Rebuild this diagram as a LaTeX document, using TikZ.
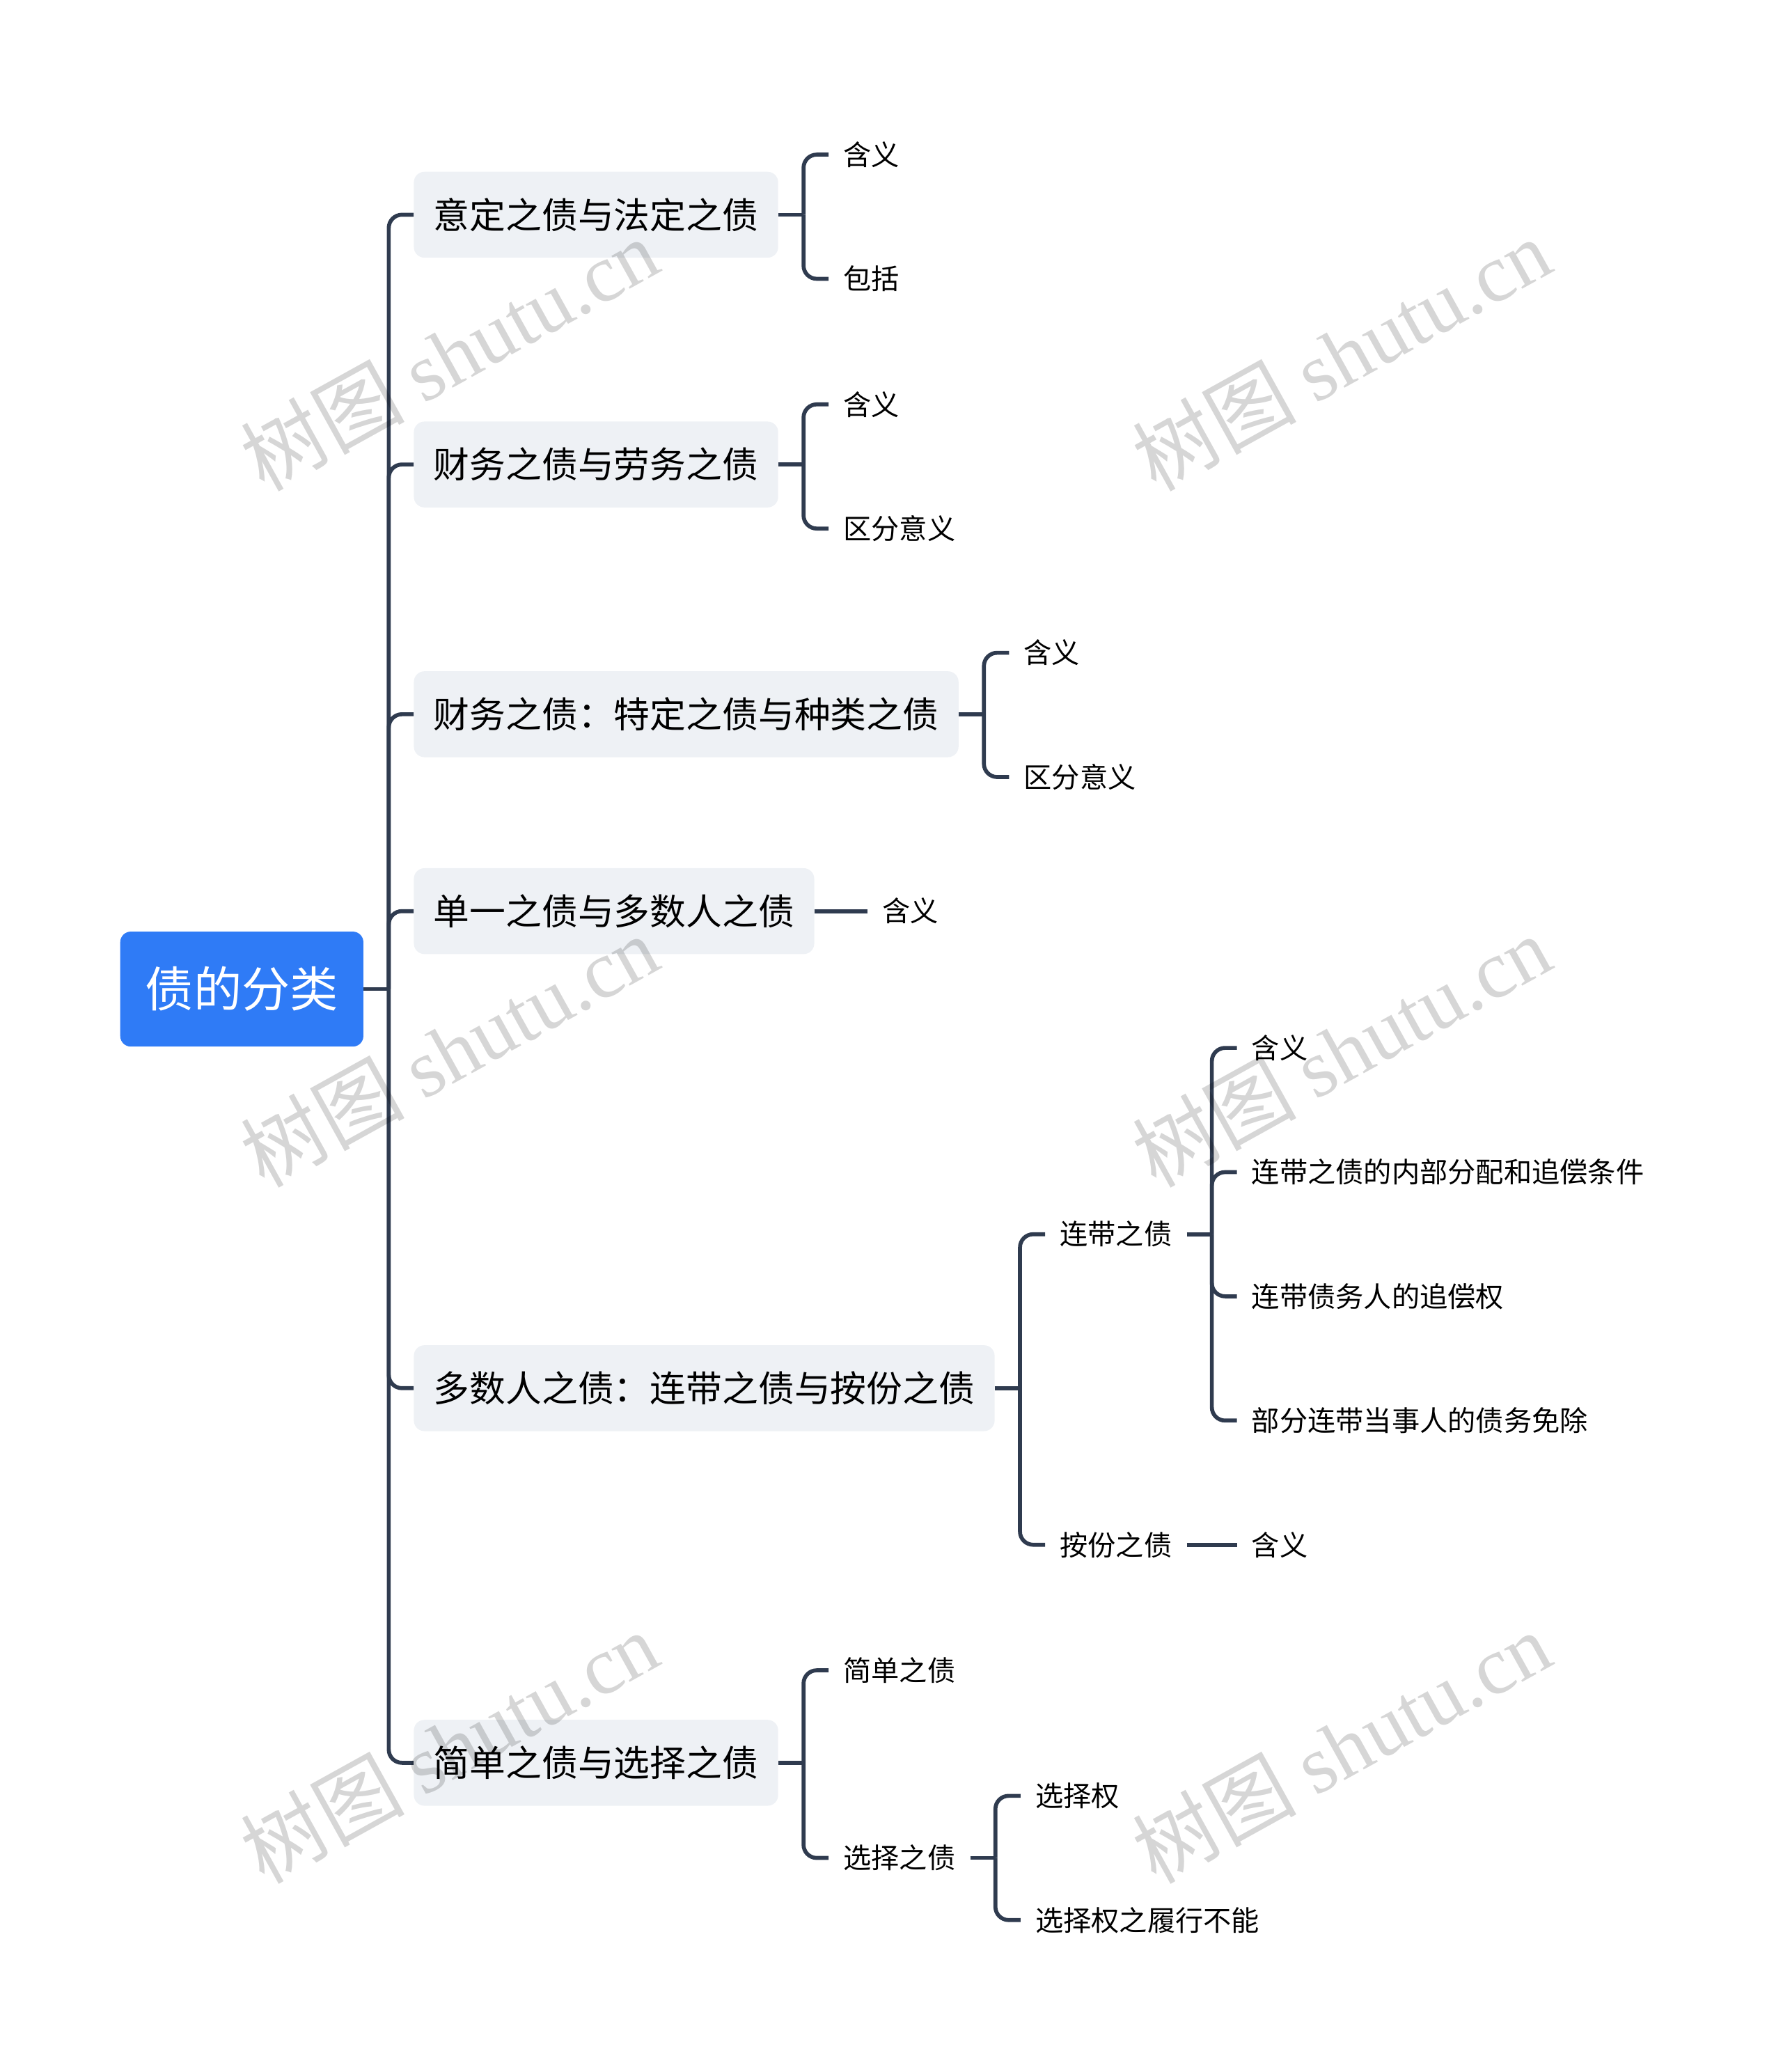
\documentclass[tikz,border=0pt]{standalone}
\usepackage{fontspec}
\newfontfamily\cjk{Noto Sans CJK SC}
\newfontfamily\wmlat{Liberation Serif}
\usetikzlibrary{calc}
\definecolor{rootblue}{RGB}{47,123,246}
\definecolor{boxgray}{RGB}{238,241,245}
\definecolor{linec}{RGB}{47,59,79}
\begin{document}
\begin{tikzpicture}[x=1pt,y=-1pt,
  conn/.style={draw=linec,line width=3pt,rounded corners=10pt},
  rootnode/.style={fill=rootblue,rounded corners=8pt,text=white,
    font=\cjk\fontsize{36.5}{40}\selectfont,minimum width=184pt,minimum height=87pt,
    inner sep=0pt,text height=32.1pt,text depth=4.4pt},
  lvone/.style={fill=boxgray,rounded corners=8pt,font=\cjk\fontsize{27.3}{30}\selectfont,
    inner xsep=15pt,inner ysep=0pt,minimum height=65pt,anchor=west,
    text height=24pt,text depth=3.3pt},
  lvtwo/.style={font=\cjk\fontsize{21.2}{24}\selectfont,inner xsep=11pt,inner ysep=2pt,
    anchor=west,text height=18.7pt,text depth=2.6pt},
  wm/.style={font=\cjk\fontsize{62}{64}\selectfont,text=black,text opacity=0.16,rotate=29}
]
\useasboundingbox (0,0) rectangle (1349,1568);

% root and first level
\node[rootnode] (root) at (183,748.5) {债的分类};
\node[lvone] (a) at (313,162.5) {意定之债与法定之债};
\node[lvone] (b) at (313,351.5) {财务之债与劳务之债};
\node[lvone] (c) at (313,540.5) {财务之债：特定之债与种类之债};
\node[lvone] (d) at (313,689.5) {单一之债与多数人之债};
\node[lvone] (e) at (313,1050.5) {多数人之债：连带之债与按份之债};
\node[lvone] (f) at (313,1334) {简单之债与选择之债};

\coordinate (trunk) at ($(root.east)+(19,0)$);
\draw[conn] (root.east) -- (trunk);
\foreach \n in {a,b,c,d,e,f} { \draw[conn] (trunk) |- (\n.west); }

% branch a
\coordinate (ab) at ($(a.east)+(19,0)$);
\path (a.east) ++(38,0) coordinate (ax);
\node[lvtwo] (a1) at (ax |- 0,117) {含义};
\node[lvtwo] (a2) at (ax |- 0,211) {包括};
\draw[conn] (a.east) -- (ab);
\draw[conn] (ab) |- (a1.west);
\draw[conn] (ab) |- (a2.west);

% branch b
\coordinate (bb) at ($(b.east)+(19,0)$);
\path (b.east) ++(38,0) coordinate (bx);
\node[lvtwo] (b1) at (bx |- 0,306) {含义};
\node[lvtwo] (b2) at (bx |- 0,400) {区分意义};
\draw[conn] (b.east) -- (bb);
\draw[conn] (bb) |- (b1.west);
\draw[conn] (bb) |- (b2.west);

% branch c
\coordinate (cb) at ($(c.east)+(19,0)$);
\path (c.east) ++(38,0) coordinate (cx);
\node[lvtwo] (c1) at (cx |- 0,494) {含义};
\node[lvtwo] (c2) at (cx |- 0,588) {区分意义};
\draw[conn] (c.east) -- (cb);
\draw[conn] (cb) |- (c1.west);
\draw[conn] (cb) |- (c2.west);

% branch d
\node[lvtwo] (d1) at ($(d.east)+(40,0)$) {含义};
\draw[conn] (d.east) -- (d1.west);

% branch e
\coordinate (eb) at ($(e.east)+(19,0)$);
\path (e.east) ++(38,0) coordinate (ex);
\node[lvtwo] (e1) at (ex |- 0,934) {连带之债};
\node[lvtwo] (e2) at (ex |- 0,1169) {按份之债};
\draw[conn] (e.east) -- (eb);
\draw[conn] (eb) |- (e1.west);
\draw[conn] (eb) |- (e2.west);

\coordinate (e1b) at ($(e1.east)+(19,0)$);
\path (e1.east) ++(38,0) coordinate (e1x);
\node[lvtwo] (e11) at (e1x |- 0,793) {含义};
\node[lvtwo] (e12) at (e1x |- 0,887) {连带之债的内部分配和追偿条件};
\node[lvtwo] (e13) at (e1x |- 0,981) {连带债务人的追偿权};
\node[lvtwo] (e14) at (e1x |- 0,1075) {部分连带当事人的债务免除};
\draw[conn] (e1.east) -- (e1b);
\foreach \n in {e11,e12,e13,e14} { \draw[conn] (e1b) |- (\n.west); }

\node[lvtwo] (e21) at ($(e2.east)+(38,0)$) {含义};
\draw[conn] (e2.east) -- (e21.west);

% branch f
\coordinate (fb) at ($(f.east)+(19,0)$);
\path (f.east) ++(38,0) coordinate (fx);
\node[lvtwo] (f1) at (fx |- 0,1264) {简单之债};
\node[lvtwo] (f2) at (fx |- 0,1406) {选择之债};
\draw[conn] (f.east) -- (fb);
\draw[conn] (fb) |- (f1.west);
\draw[conn] (fb) |- (f2.west);

\coordinate (f2b) at ($(f2.east)+(19,0)$);
\path (f2.east) ++(38,0) coordinate (f2x);
\node[lvtwo] (f21) at (f2x |- 0,1359) {选择权};
\node[lvtwo] (f22) at (f2x |- 0,1453) {选择权之履行不能};
\draw[conn] (f2.east) -- (f2b);
\draw[conn] (f2b) |- (f21.west);
\draw[conn] (f2b) |- (f22.west);

% watermarks
\node[wm] (w1) at (340,268) {树图 {\wmlat shutu.cn}};
\node[wm] (w2) at (1015,268) {树图 {\wmlat shutu.cn}};
\node[wm] (w3) at (340,795) {树图 {\wmlat shutu.cn}};
\node[wm] (w4) at (1015,795) {树图 {\wmlat shutu.cn}};
\node[wm] (w5) at (340,1322) {树图 {\wmlat shutu.cn}};
\node[wm] (w6) at (1015,1322) {树图 {\wmlat shutu.cn}};
\end{tikzpicture}
\end{document}
